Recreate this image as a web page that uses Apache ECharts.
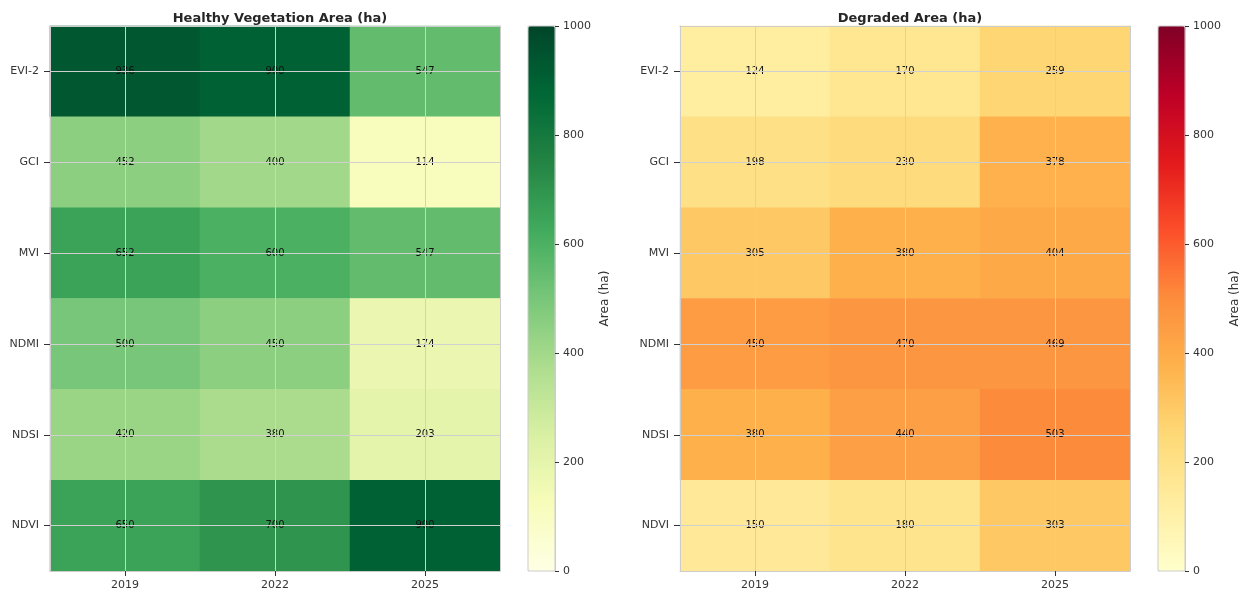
<!DOCTYPE html>
<html><head><meta charset="utf-8">
<script src="https://cdn.jsdelivr.net/npm/echarts@6/dist/echarts.min.js"></script>
<style>html,body{margin:0;padding:0;background:#fff}#c{width:1242px;height:592px}</style>
</head><body><div id="c"></div>
<script>
const years = ['2019', '2022', '2025'];
const indices = ['EVI-2', 'GCI', 'MVI', 'NDMI', 'NDSI', 'NDVI'];
const healthy = [
  [936, 900, 547],
  [452, 400, 114],
  [652, 600, 547],
  [500, 450, 174],
  [420, 380, 203],
  [650, 700, 900]
];
const degraded = [
  [124, 170, 259],
  [198, 230, 378],
  [305, 380, 404],
  [450, 470, 469],
  [380, 440, 503],
  [150, 180, 303]
];
const cbTicks = [0, 200, 400, 600, 800, 1000];
const titles = ['Healthy Vegetation Area (ha)', 'Degraded Area (ha)'];
const cbName = 'Area (ha)';

const YlGn = ['#ffffe5','#f7fcb9','#d9f0a3','#addd8e','#78c679','#41ab5d','#238443','#006837','#004529'];
const YlOrRd = ['#ffffcc','#ffeda0','#fed976','#feb24c','#fd8d3c','#fc4e2a','#e31a1c','#bd0026','#800026'];

function toCells(m) {
  const out = [];
  m.forEach((row, i) => row.forEach((v, j) => out.push([j, i, v])));
  return out;
}

const FONT = 'DejaVu Sans';
const panels = [
  {gl: 50, cbl: 528, data: healthy, colors: YlGn},
  {gl: 680, cbl: 1158, data: degraded, colors: YlOrRd}
];
const TOP = 26, H = 545, W = 450, CBW = 27;

const grid = [], xAxis = [], yAxis = [], series = [], visualMap = [], title = [];
panels.forEach((p, k) => {
  const gMain = grid.length;
  grid.push({left: p.gl, top: TOP, width: W, height: H, containLabel: false});
  const gCb = grid.length;
  grid.push({left: p.cbl, top: TOP, width: CBW, height: H, show: true, borderColor: '#cccccc', borderWidth: 1, backgroundColor: 'transparent', z: 5});
  title.push({text: titles[k], left: p.gl + W / 2, top: 7, textAlign: 'center',
    textStyle: {fontFamily: FONT, fontSize: 13, fontWeight: 'bold', color: '#262626'}});
  const xi = xAxis.length;
  xAxis.push({gridIndex: gMain, type: 'category', data: years, position: 'bottom', z: 3,
    axisLine: {show: true, lineStyle: {color: '#cccccc'}},
    axisTick: {show: true, alignWithLabel: true, length: 5, lineStyle: {color: '#333'}},
    axisLabel: {fontFamily: FONT, fontSize: 11, color: '#333', margin: 9},
    splitLine: {show: false}});
  xAxis.push({gridIndex: gMain, type: 'category', data: years, position: 'top', z: 3,
    axisLine: {show: true, lineStyle: {color: '#cccccc'}}, axisTick: {show: false}, axisLabel: {show: false}});
  const yi = yAxis.length;
  yAxis.push({gridIndex: gMain, type: 'category', data: indices, inverse: true, position: 'left', z: 3,
    axisLine: {show: true, lineStyle: {color: '#cccccc'}},
    axisTick: {show: true, alignWithLabel: true, length: 6, lineStyle: {color: '#333'}},
    axisLabel: {fontFamily: FONT, fontSize: 11, color: '#333', margin: 11},
    splitLine: {show: false}});
  yAxis.push({gridIndex: gMain, type: 'category', data: indices, inverse: true, position: 'right', z: 3,
    axisLine: {show: true, lineStyle: {color: '#cccccc'}}, axisTick: {show: false}, axisLabel: {show: false}});
  // colorbar axes
  const cxi = xAxis.length;
  xAxis.push({gridIndex: gCb, type: 'value', min: 0, max: 1, show: false});
  const cyi = yAxis.length;
  yAxis.push({gridIndex: gCb, type: 'value', min: cbTicks[0], max: cbTicks[cbTicks.length - 1], interval: 200, position: 'right', z: 6,
    axisLine: {show: true, onZero: false, lineStyle: {color: '#cccccc'}}, splitLine: {show: false},
    axisTick: {show: true, inside: false, length: 4, lineStyle: {color: '#333'}},
    axisLabel: {fontFamily: FONT, fontSize: 11, color: '#333', margin: 8, formatter: v => String(v)},
    name: cbName, nameLocation: 'middle', nameRotate: 90, nameGap: 44,
    nameTextStyle: {fontFamily: FONT, fontSize: 12, color: '#333'}});
  const si = series.length;
  series.push({type: 'heatmap', xAxisIndex: xi, yAxisIndex: yi, data: toCells(p.data), z: 2,
    label: {show: true, fontFamily: FONT, fontSize: 10, color: '#111'},
    itemStyle: {borderWidth: 0},
    emphasis: {disabled: true},
    markLine: {silent: true, symbol: 'none', animation: false,
      lineStyle: {color: '#d0d0d0', width: 1, type: 'solid'}, label: {show: false},
      data: years.map(y => ({xAxis: y})).concat(indices.map(c => ({yAxis: c})))}});
  series.push({type: 'line', xAxisIndex: cxi, yAxisIndex: cyi, data: [], silent: true});
  visualMap.push({type: 'continuous', seriesIndex: si, min: 0, max: 1000, calculable: false,
    orient: 'vertical', left: p.cbl, top: TOP, itemWidth: CBW, itemHeight: H, padding: 0,
    text: ['', ''], showLabel: false, inRange: {color: p.colors}, z: 2});
});

const chart = echarts.init(document.getElementById('c'));
chart.setOption({animation: false, backgroundColor: '#ffffff', title, grid, xAxis, yAxis, series, visualMap});
</script></body></html>
